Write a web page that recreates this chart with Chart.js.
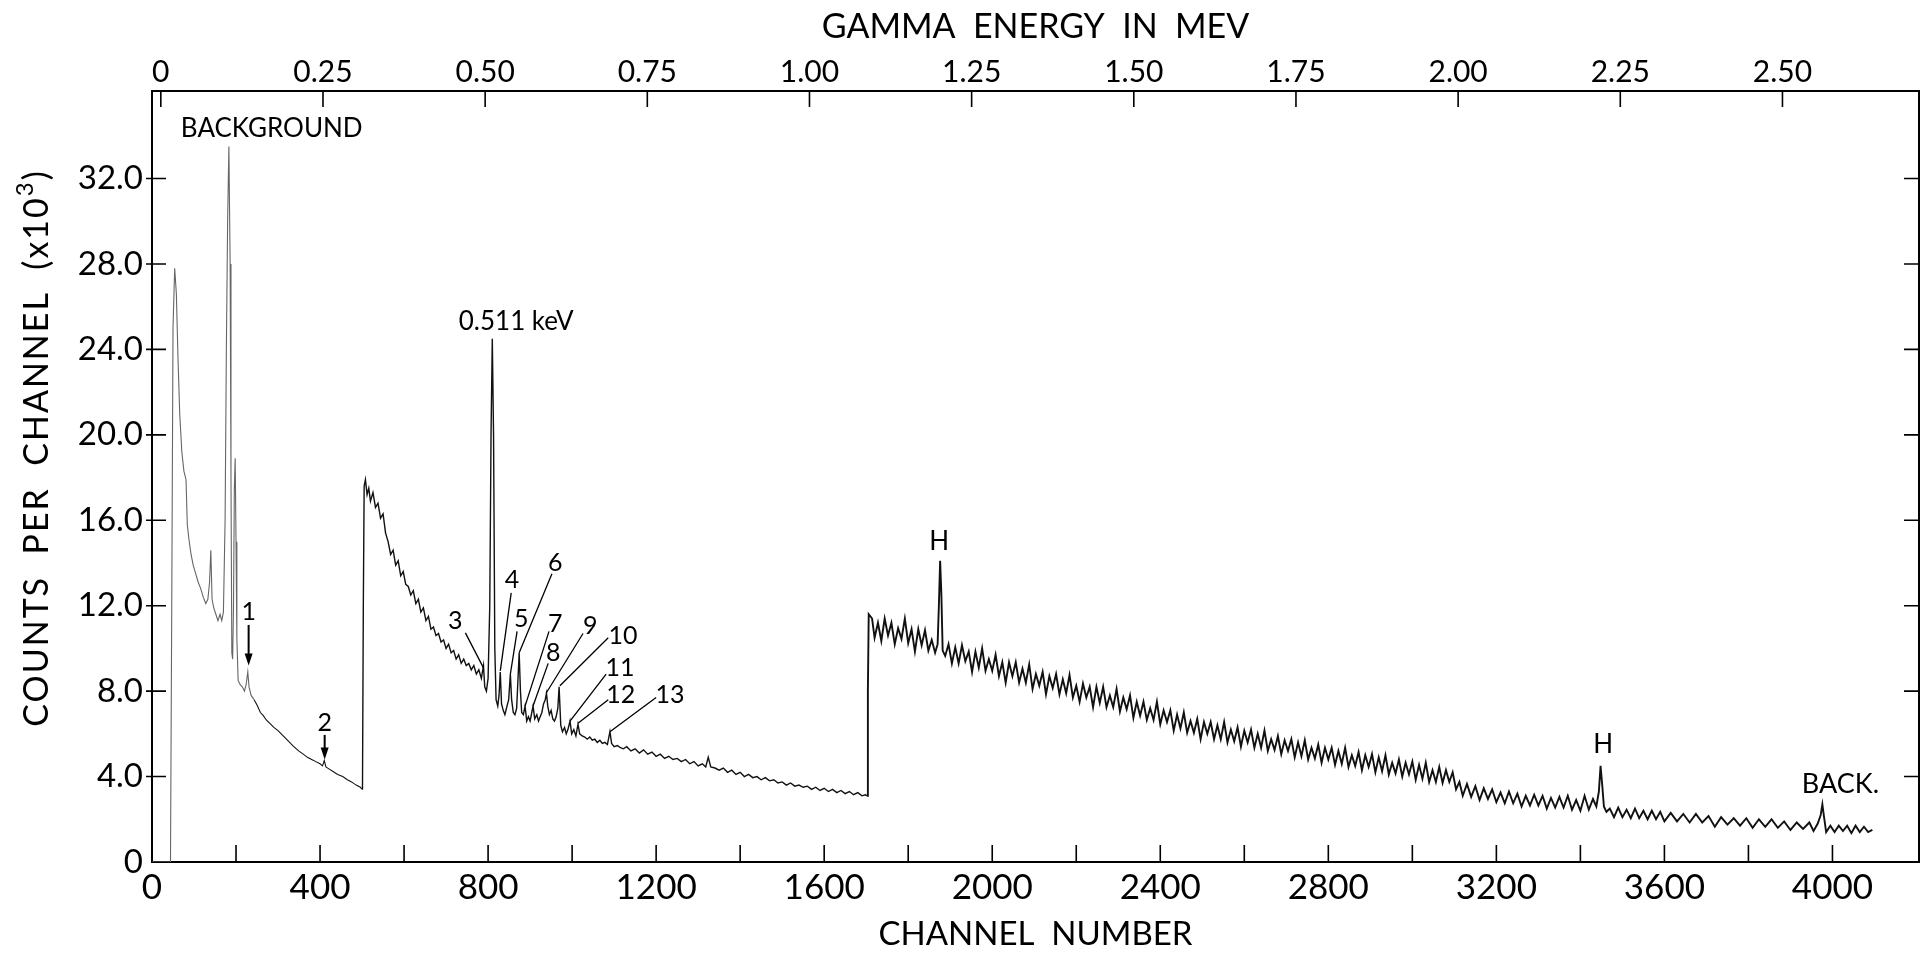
<!DOCTYPE html>
<html>
<head>
<meta charset="utf-8">
<title>Gamma spectrum</title>
<script src="https://cdn.jsdelivr.net/npm/chart.js@4.4.0/dist/chart.umd.min.js"></script>
<style>
  html, body { margin: 0; padding: 0; background: #fff; overflow: hidden; }
  #wrap { width: 1931px; height: 954px; position: relative; }
</style>
</head>
<body>
<div id="wrap"><canvas id="chart"></canvas></div>
<script>
// spectrum: [channel, counts per channel (x10^3)]
const backgroundRegion = [
  [0,0],[44,0],[47,12],[50,25],[54,27.8],[58,26.6],[62,23.5],[66,21],[71,19.2],[76,18.3],[81,17.9],
  [84,15.8],[88,15.1],[93,14.4],[98,13.9],[104,13.5],[110,13.1],[116,12.8],[122,12.4],[128,12.1],
  [133,12.3],[137,13.1],[140,14.6],[143,12.3],[147,11.9],[152,11.6],[157,11.3],[162,11.6],[166,11.3],
  [170,11.7],[174,16],[177,24],[180,30],[183,33.5],[186,28],[188,18],[190,9.8],[192,9.5],[194,12],
  [196,17.5],[198,18.9],[200,15],[202,10.5],[205,8.5],[210,8.3],[215,8.2],[220,8.0],[224,8.3],
  [228,8.9],[231,8.2],[236,7.8],[243,7.6],[250,7.35],[258,7.0],[265,6.85],[272,6.65],[280,6.5],
  [290,6.3],[300,6.15],[310,5.95],[320,5.75],[335,5.45],[349,5.2],[360,5.05],[370,4.9],[380,4.8],
  [390,4.7],[400,4.6],[406,4.5],[410,4.75],[414,4.45],[422,4.35],[430,4.25],[442,4.1],[454,4.0],
  [465,3.85],[475,3.75],[486,3.6],[496,3.5],[501,3.4]
];
const annihilationRegion = [
  [503,12],[505,17.6],[508,17.9],[512,17.2],[516,17.5],[520,16.9],[526,17.3],[532,16.6],[538,16.8],
  [544,16.1],[550,16.3],[556,15.4],[562,15.0],[568,14.4],[574,14.6],[580,13.9],[586,14.1],[592,13.4],
  [598,13.6],[604,13.0],[610,12.9],[616,12.5],[622,12.7],[628,12.1],[634,12.3],[640,11.7],[646,11.9],
  [652,11.3],[658,11.5],[664,10.9],[670,11.0],[676,10.6],[682,10.7],[688,10.3],[694,10.4],[700,10.0],
  [706,10.2],[712,9.8],[718,9.9],[724,9.5],[730,9.7],[736,9.3],[742,9.5],[748,9.2],[754,9.3],[760,9.0],
  [766,9.2],[772,8.8],[778,9.0],[784,8.6],[789,9.2],[792,8.2],[796,8.0],[800,8.6],[804,12],[807,20],
  [810,24.5],[813,20],[816,10],[819,7.6],[823,7.3],[826,7.8],[829,8.9],[832,7.4],[836,7.1],[840,6.9],
  [845,7.3],[849,7.6],[853,8.8],[856,7.6],[860,7.0],[864,6.9],[868,7.2],[871,8.5],[874,9.8],[877,8.0],
  [880,7.0],[884,6.9],[888,7.3],[892,6.6],[896,6.8],[900,6.6],[904,7.0],[907,7.3],[911,6.7],[916,6.9],
  [920,6.6],[924,6.8],[928,7.0],[932,7.4],[936,7.6],[939,7.9],[942,7.3],[946,6.9],[950,7.1],[954,6.7],
  [958,6.6],[962,6.8],[966,7.2],[969,8.2],[971,8.2],[973,6.4],[977,6.1],[982,6.3],[986,6.0],[990,6.2],
  [995,6.6],[999,6.0],[1004,6.2],[1009,5.9],[1014,6.45],[1018,6.0],[1024,5.9],[1030,5.85],[1036,5.75],
  [1042,5.85],[1048,5.7],[1054,5.75],[1060,5.6],[1066,5.7],[1072,5.55],[1078,5.6],[1084,5.5],
  [1090,6.1],[1094,5.55],[1100,5.4],[1108,5.45],[1115,5.35]
];
const comptonRegion = [
  [1122,5.3],[1130,5.4],[1140,5.2],[1150,5.3],[1160,5.1],[1170,5.25],[1180,5.05],[1190,5.15],
  [1200,4.95],[1210,5.05],[1220,4.85],[1230,4.95],[1240,4.8],[1250,4.85],[1260,4.7],[1270,4.8],
  [1280,4.6],[1290,4.7],[1300,4.5],[1310,4.6],[1318,4.45],[1324,4.9],[1330,4.45],[1340,4.4],
  [1350,4.3],[1360,4.4],[1370,4.2],[1380,4.3],[1390,4.1],[1400,4.2],[1410,4.0],[1420,4.1],
  [1430,3.95],[1440,4.0],[1450,3.85],[1460,3.95],[1470,3.8],[1480,3.85],[1490,3.7],[1500,3.75],
  [1510,3.6],[1520,3.7],[1530,3.55],[1540,3.6],[1550,3.5],[1560,3.55],[1570,3.4],[1580,3.5],
  [1590,3.35],[1600,3.45],[1610,3.3],[1620,3.4],[1630,3.25],[1640,3.35],[1650,3.2],[1660,3.3],
  [1670,3.15],[1680,3.25],[1690,3.1],[1698,3.15],[1702,3.1]
];
const upperRegion = [
  [1704,8],[1706,11.6],[1714,11.4],[1720,10.5],[1728,11.2],[1736,10.35],[1744,11.4],[1752,10.6],
  [1760,11.2],[1768,10.2],[1776,10.95],[1784,10.45],[1792,11.4],[1800,10.25],[1808,10.9],[1816,9.85],
  [1824,10.9],[1832,10.15],[1840,10.85],[1848,9.9],[1856,10.4],[1864,9.8],[1870,10.2],[1873,12],
  [1876,14.1],[1879,12.5],[1882,9.9],[1888,9.65],[1896,10.2],[1904,9.3],[1912,10.05],[1920,9.3],
  [1928,10.15],[1936,9.4],[1944,9.85],[1952,8.9],[1960,9.85],[1968,9.1],[1976,10.0],[1984,8.95],
  [1992,9.5],[2000,8.95],[2008,9.7],[2016,8.7],[2024,9.35],[2032,8.4],[2040,9.35],[2048,8.7],
  [2056,9.35],[2064,8.4],[2072,9.05],[2080,8.4],[2088,9.25],[2096,8.1],[2104,8.8],[2112,8.25],
  [2120,8.9],[2128,7.85],[2136,8.7],[2144,8.15],[2152,8.8],[2160,7.85],[2168,8.55],[2176,7.9],
  [2184,8.75],[2192,7.7],[2200,8.25],[2208,7.5],[2216,8.35],[2224,7.7],[2232,8.2],[2240,7.25],
  [2248,8.2],[2256,7.45],[2264,8.2],[2272,7.25],[2280,7.8],[2288,7.25],[2296,8.1],[2304,7.05],
  [2312,7.7],[2320,7.15],[2328,7.8],[2336,6.75],[2344,7.5],[2352,6.85],[2360,7.5],[2368,6.65],
  [2376,7.2],[2384,6.65],[2392,7.5],[2400,6.45],[2408,7.1],[2416,6.55],[2424,7.1],[2432,6.15],
  [2440,6.9],[2448,6.25],[2456,7.0],[2464,6.05],[2472,6.6],[2480,6.05],[2488,6.7],[2496,5.75],
  [2504,6.55],[2512,6.0],[2520,6.55],[2528,5.75],[2536,6.4],[2544,5.75],[2552,6.55],[2560,5.6],
  [2568,6.2],[2576,5.65],[2584,6.3],[2592,5.4],[2600,6.15],[2608,5.6],[2616,6.2],[2624,5.35],
  [2632,6.0],[2640,5.35],[2648,6.15],[2656,5.2],[2664,5.75],[2672,5.25],[2680,5.9],[2688,5.05],
  [2696,5.7],[2704,5.2],[2712,5.75],[2720,4.9],[2728,5.6],[2736,4.95],[2744,5.7],[2752,4.8],
  [2760,5.35],[2768,4.85],[2776,5.5],[2784,4.65],[2792,5.35],[2800,4.8],[2808,5.35],[2816,4.55],
  [2824,5.2],[2832,4.6],[2840,5.35],[2848,4.45],[2856,5.0],[2864,4.5],[2872,5.15],[2880,4.3],
  [2888,5.0],[2896,4.45],[2904,5.05],[2912,4.2],[2920,4.9],[2928,4.25],[2936,5.0],[2944,4.1],
  [2952,4.65],[2960,4.15],[2968,4.8],[2976,4.0],[2984,4.65],[2992,4.1],[3000,4.7],[3008,3.85],
  [3016,4.55],[3024,3.9],[3032,4.65],[3040,3.75],[3048,4.3],[3056,3.75],[3064,4.45],[3072,3.7],
  [3080,4.3],[3088,3.75],[3096,4.2]
];
const tailRegion = [
  [3104,3.4],[3112,3.75],[3120,3.1],[3130,3.65],[3140,3.05],[3150,3.55],[3160,2.9],[3170,3.45],
  [3180,2.95],[3190,3.4],[3200,2.8],[3210,3.25],[3220,2.75],[3230,3.3],[3240,2.75],[3250,3.2],
  [3260,2.6],[3270,3.1],[3280,2.65],[3290,3.15],[3300,2.65],[3310,3.1],[3320,2.5],[3330,3.0],
  [3340,2.55],[3350,3.05],[3360,2.55],[3370,3.1],[3380,2.45],[3390,2.9],[3400,2.4],[3410,3.1],
  [3420,2.45],[3430,2.95],[3438,2.6],[3444,3.3],[3448,4.5],[3452,3.6],[3456,2.6],[3462,2.35],
  [3470,2.5],[3480,2.1],[3490,2.55],[3500,2.1],[3510,2.45],[3520,2.05],[3530,2.5],[3540,2.05],
  [3550,2.4],[3560,2.0],[3570,2.4],[3580,2.0],[3590,2.35],[3600,1.9],[3615,2.3],[3630,1.9],
  [3645,2.25],[3660,1.85],[3675,2.25],[3690,1.85],[3705,2.15],[3720,1.65],[3735,2.1],[3750,1.75],
  [3765,2.05],[3780,1.7],[3795,2.05],[3810,1.6],[3825,2.0],[3840,1.65],[3855,2.0],[3870,1.6],
  [3885,1.9],[3900,1.5],[3915,1.85],[3930,1.55],[3945,1.85],[3955,1.45],[3965,1.8],[3972,2.2],
  [3976,2.7],[3980,2.1],[3985,1.4],[3995,1.7],[4005,1.4],[4015,1.7],[4025,1.45],[4035,1.7],
  [4045,1.35],[4055,1.7],[4065,1.4],[4075,1.65],[4085,1.4],[4095,1.5]
];

// axis ticks
const channelTicks = [0, 400, 800, 1200, 1600, 2000, 2400, 2800, 3200, 3600, 4000];
const channelMinorTicks = [200, 600, 1000, 1400, 1800, 2200, 2600, 3000, 3400, 3800];
const countTicks = [0, 4, 8, 12, 16, 20, 24, 28, 32];
const energyTicks = [0, 0.25, 0.5, 0.75, 1.0, 1.25, 1.5, 1.75, 2.0, 2.25, 2.5];

// annotations in data coordinates
const textLabels = [
  ['BACKGROUND', 285, 34.35, 26], ['0.511 keV', 867, 25.3, 26],
  ['H', 1874, 15.0, 26], ['H', 3454, 5.5, 26], ['BACK.', 4019, 3.65, 27]
];
const peakNumbers = [
  ['1', 230, 11.7], ['2', 411, 6.5], ['3', 722, 11.3], ['4', 857, 13.2], ['5', 879, 11.4],
  ['6', 960, 14.0], ['7', 960, 11.15], ['8', 955, 9.8], ['9', 1043, 11.05], ['10', 1121, 10.6],
  ['11', 1114, 9.1], ['12', 1116, 7.8], ['13', 1233, 7.8]
];
const arrows = [[230, 11.1, 9.2], [411, 5.95, 4.8]];
const leaders = [
  [746, 10.73, 789, 9.09], [855, 12.6, 829, 8.95], [869, 10.8, 853, 8.8], [952, 13.5, 874, 9.8],
  [945, 10.8, 888, 7.3], [943, 9.3, 907, 7.3], [1026, 10.7, 938, 7.9], [1086, 10.5, 971, 8.25],
  [1081, 8.8, 995, 6.6], [1086, 7.6, 1014, 6.5], [1200, 7.7, 1090, 6.1]
];

const FONT = 'Lato, "DejaVu Sans", sans-serif';
const spectrum = [...backgroundRegion, ...annihilationRegion, ...comptonRegion, ...upperRegion, ...tailRegion]
  .map(([x, y]) => ({ x, y }));

const frameDecor = {
  id: 'frameDecor',
  afterDraw(chart) {
    const { ctx, chartArea: a, scales } = chart;
    ctx.save();
    ctx.strokeStyle = '#000';
    ctx.lineWidth = 1.6;
    ctx.beginPath();
    [...channelTicks, ...channelMinorTicks].forEach(v => {
      if (v <= 0) return;
      const px = scales.x.getPixelForValue(v);
      ctx.moveTo(px, a.bottom);
      ctx.lineTo(px, a.bottom - 17);
    });
    energyTicks.forEach(v => {
      const px = scales.x2.getPixelForValue(v);
      ctx.moveTo(px, a.top);
      ctx.lineTo(px, a.top + 16);
    });
    countTicks.forEach(v => {
      if (v <= 0) return;
      const py = scales.y.getPixelForValue(v);
      ctx.moveTo(a.left - 6, py);
      ctx.lineTo(a.left + 14, py);
      ctx.moveTo(a.right, py);
      ctx.lineTo(a.right - 15, py);
    });
    ctx.stroke();

    // y axis title with superscript
    ctx.fillStyle = '#000';
    ctx.translate(37, 448);
    ctx.rotate(-Math.PI / 2);
    ctx.letterSpacing = '2px';
    ctx.textBaseline = 'middle';
    ctx.font = '34px ' + FONT;
    const main = 'COUNTS  PER  CHANNEL  (x10';
    const w1 = ctx.measureText(main).width;
    const w3 = ctx.measureText(')').width;
    ctx.font = '24px ' + FONT;
    const w2 = ctx.measureText('3').width;
    let x0 = -(w1 + w2 + w3) / 2;
    ctx.font = '34px ' + FONT;
    ctx.fillText(main, x0, 0);
    ctx.font = '24px ' + FONT;
    ctx.fillText('3', x0 + w1, -12);
    ctx.font = '34px ' + FONT;
    ctx.fillText(')', x0 + w1 + w2, 0);
    ctx.restore();
  },
  afterDatasetsDraw(chart) {
    const { ctx, scales: { x, y } } = chart;
    ctx.save();
    ctx.fillStyle = '#000';
    ctx.strokeStyle = '#000';
    ctx.textAlign = 'center';
    ctx.textBaseline = 'middle';
    textLabels.forEach(([t, c, v, size]) => {
      ctx.font = size + 'px ' + FONT;
      ctx.fillText(t, x.getPixelForValue(c), y.getPixelForValue(v));
    });
    ctx.font = '25px ' + FONT;
    peakNumbers.forEach(([t, c, v]) => ctx.fillText(t, x.getPixelForValue(c), y.getPixelForValue(v)));
    ctx.lineWidth = 1.3;
    ctx.beginPath();
    leaders.forEach(([c1, v1, c2, v2]) => {
      ctx.moveTo(x.getPixelForValue(c1), y.getPixelForValue(v1));
      ctx.lineTo(x.getPixelForValue(c2), y.getPixelForValue(v2));
    });
    ctx.stroke();
    arrows.forEach(([c, vTop, vTip]) => {
      const px = x.getPixelForValue(c);
      const top = y.getPixelForValue(vTop);
      const tip = y.getPixelForValue(vTip);
      ctx.lineWidth = 2;
      ctx.beginPath();
      ctx.moveTo(px, top);
      ctx.lineTo(px, tip - 8);
      ctx.stroke();
      ctx.beginPath();
      ctx.moveTo(px - 4, tip - 12);
      ctx.lineTo(px + 4, tip - 12);
      ctx.lineTo(px, tip);
      ctx.closePath();
      ctx.fill();
    });
    ctx.restore();
  }
};

const tickFont = size => ({ family: FONT, size });

new Chart(document.getElementById('chart'), {
  type: 'line',
  data: {
    datasets: [{
      data: spectrum,
      borderColor: '#111',
      borderWidth: 1.3,
      pointRadius: 0,
      tension: 0,
      xAxisID: 'x',
      yAxisID: 'y',
      segment: {
        borderColor: c => (c.p0.parsed.x < 240 ? '#666' : '#111'),
        borderWidth: c => (c.p0.parsed.x < 500 ? 1.1 : c.p0.parsed.x < 1700 ? 1.4 : 1.9)
      }
    }]
  },
  options: {
    responsive: true,
    maintainAspectRatio: false,
    animation: false,
    layout: { padding: 0 },
    plugins: { legend: { display: false }, tooltip: { enabled: false } },
    scales: {
      x: {
        type: 'linear',
        position: 'bottom',
        min: 0,
        max: 4206,
        afterBuildTicks: s => { s.ticks = channelTicks.map(value => ({ value })); },
        afterFit: s => { s.height = 92; },
        grid: { display: false, drawTicks: false },
        border: { display: true, color: '#000', width: 2 },
        ticks: { color: '#000', font: tickFont(35), padding: 5, maxRotation: 0, autoSkip: false,
          callback: v => String(v) },
        title: { display: true, text: 'CHANNEL  NUMBER', color: '#000', font: tickFont(33),
          padding: { top: 0, bottom: 0 } }
      },
      x2: {
        type: 'linear',
        position: 'top',
        min: -0.0136,
        max: 2.7105,
        afterBuildTicks: s => { s.ticks = energyTicks.map(value => ({ value })); },
        afterFit: s => { s.height = 91; },
        grid: { display: false, drawTicks: false },
        border: { display: true, color: '#000', width: 2 },
        ticks: { color: '#000', font: tickFont(30), padding: 1, maxRotation: 0, autoSkip: false,
          callback: v => (v === 0 ? '0' : v.toFixed(2)) },
        title: { display: true, text: 'GAMMA  ENERGY  IN  MEV', color: '#000', font: tickFont(34),
          padding: { top: 7, bottom: 0 } }
      },
      y: {
        position: 'left',
        min: 0,
        max: 36.1,
        afterBuildTicks: s => { s.ticks = countTicks.map(value => ({ value })); },
        afterFit: s => { s.width = 152; },
        grid: { display: false, drawTicks: false },
        border: { display: true, color: '#000', width: 2 },
        ticks: { color: '#000', font: tickFont(33), padding: 9,
          callback: v => (v === 0 ? '0' : v.toFixed(1)) }
      },
      y2: {
        position: 'right',
        min: 0,
        max: 36.1,
        afterFit: s => { s.width = 12; },
        grid: { display: false, drawTicks: false },
        border: { display: true, color: '#000', width: 2 },
        ticks: { display: false }
      }
    }
  },
  plugins: [frameDecor]
});
</script>
</body>
</html>
